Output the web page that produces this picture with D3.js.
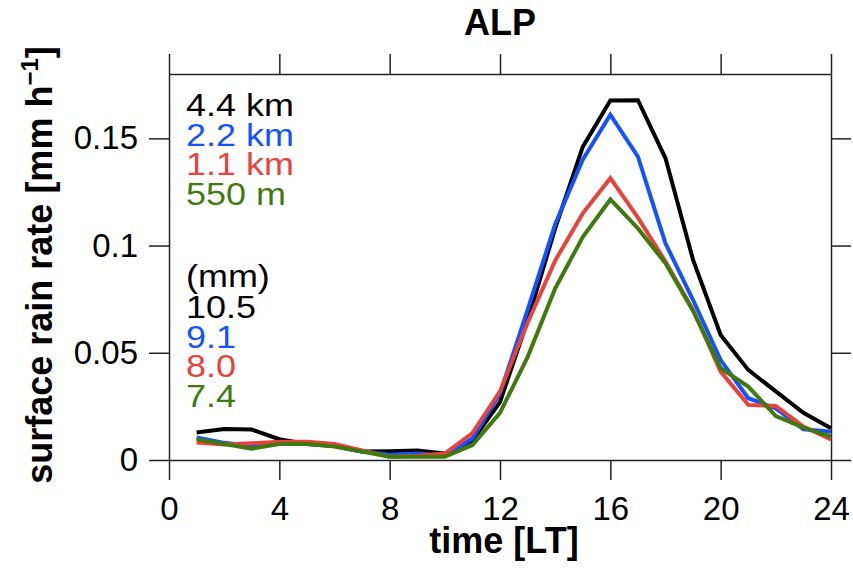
<!DOCTYPE html>
<html>
<head>
<meta charset="utf-8">
<script src="https://cdn.jsdelivr.net/npm/d3@7"></script>
<style>
  html, body { margin: 0; padding: 0; background: #fff; }
  svg { display: block; font-family: "Liberation Sans", Arial, Helvetica, sans-serif; }
</style>
</head>
<body>
<svg id="chart" width="853" height="568"></svg>
<script>
// ---- data ----
const hours = [1,2,3,4,5,6,7,8,9,10,11,12,13,14,15,16,17,18,19,20,21,22,23,24];
const res44km = [0.0128,0.0145,0.0142,0.0097,0.0075,0.0065,0.0040,0.0041,0.0044,0.0030,0.0090,0.0270,0.0650,0.1080,0.1460,0.1676,0.1678,0.1407,0.0933,0.0583,0.0420,0.0320,0.0220,0.0148];
const res22km = [0.0105,0.0080,0.0065,0.0078,0.0078,0.0065,0.0040,0.0025,0.0030,0.0020,0.0100,0.0310,0.0700,0.1100,0.1400,0.1610,0.1415,0.1010,0.0746,0.0466,0.0288,0.0241,0.0143,0.0132];
const res11km = [0.0082,0.0072,0.0078,0.0085,0.0085,0.0075,0.0045,0.0015,0.0020,0.0030,0.0125,0.0320,0.0640,0.0930,0.1150,0.1314,0.1130,0.0925,0.0700,0.0412,0.0257,0.0252,0.0156,0.0096];
const res550m = [0.0097,0.0075,0.0053,0.0075,0.0075,0.0063,0.0040,0.0015,0.0015,0.0015,0.0070,0.0220,0.0480,0.0800,0.1040,0.1215,0.1080,0.0917,0.0695,0.0428,0.0342,0.0205,0.0151,0.0109];
const seriesNames = ["4.4 km","2.2 km","1.1 km","550 m"];
const totals = ["10.5","9.1","8.0","7.4"];
const seriesColors = ["#000000","#1452ff","#e8433b","#3f7a0f"];
const xTicks = [0,4,8,12,16,20,24];
const yTicks = [0,0.05,0.1,0.15];
const yTickLabels = ["0","0.05","0.1","0.15"];
const title = "ALP";
const xLabel = "time [LT]";

// ---- layout ----
const svg = d3.select("#chart");
const pLeft = 169, pRight = 831, pTop = 74, pBottom = 460;
const x = d3.scaleLinear().domain([0,24]).range([pLeft,pRight]);
const y = d3.scaleLinear().domain([0,0.18]).range([pBottom,pTop]);
const axisColor = "#222";

function styleAxis(g){
  g.selectAll("path.domain").attr("stroke", axisColor).attr("stroke-width", 1.5);
  g.selectAll(".tick line").attr("stroke", axisColor).attr("stroke-width", 1.5);
  g.selectAll(".tick text").attr("fill", "#000").attr("font-size", 33)
    .attr("font-family", "Liberation Sans, Arial, sans-serif");
}

// bottom axis
const gB = svg.append("g").attr("transform", `translate(0,${pBottom})`)
  .call(d3.axisBottom(x).tickValues(xTicks).tickFormat(d3.format("d")).tickSize(20).tickSizeOuter(0).tickPadding(17));
styleAxis(gB);
// top axis
const gT = svg.append("g").attr("transform", `translate(0,${pTop})`)
  .call(d3.axisTop(x).tickValues(xTicks).tickFormat("").tickSize(20).tickSizeOuter(0));
styleAxis(gT);
// left axis
const gL = svg.append("g").attr("transform", `translate(${pLeft},0)`)
  .call(d3.axisLeft(y).tickValues(yTicks).tickFormat((d,i)=>yTickLabels[i]).tickSize(20).tickSizeOuter(0).tickPadding(11));
styleAxis(gL);
// right axis
const gR = svg.append("g").attr("transform", `translate(${pRight},0)`)
  .call(d3.axisRight(y).tickValues(yTicks).tickFormat("").tickSize(20).tickSizeOuter(0));
styleAxis(gR);

// ---- lines ----
const allSeries = [res44km, res22km, res11km, res550m];
const line = d3.line().x((d,i)=>x(hours[i])).y(d=>y(d));
svg.append("g").selectAll("path.series")
  .data(allSeries).join("path")
  .attr("class","series")
  .attr("d", d=>line(d))
  .attr("fill","none")
  .attr("stroke",(d,i)=>seriesColors[i])
  .attr("stroke-width",4)
  .attr("stroke-linejoin","miter")
  .attr("stroke-linecap","butt");

// ---- legend text ----
const legX = 186;
const nameBase = [116, 145.5, 175, 204.5];
const totalBase = [318, 347.5, 377, 406.5];
const leg = svg.append("g").attr("font-size", 31);
seriesNames.forEach((n,i)=>{
  leg.append("text").attr("transform",`translate(${legX},${nameBase[i]}) scale(1.16,1)`)
    .attr("fill",seriesColors[i]).text(n);
});
leg.append("text").attr("transform",`translate(${legX},287) scale(1.16,1)`).attr("fill","#000").text("(mm)");
totals.forEach((t,i)=>{
  leg.append("text").attr("transform",`translate(${legX},${totalBase[i]}) scale(1.16,1)`)
    .attr("fill",seriesColors[i]).text(t);
});

// ---- titles ----
svg.append("text").attr("x",500).attr("y",35).attr("text-anchor","middle")
  .attr("font-size",36).attr("font-weight","bold").text(title);
svg.append("text").attr("x",504).attr("y",553).attr("text-anchor","middle")
  .attr("font-size",36).attr("font-weight","bold").text(xLabel);
const yl = svg.append("text").attr("transform","translate(52,265) rotate(-90)")
  .attr("text-anchor","middle").attr("font-size",36).attr("font-weight","bold");
yl.append("tspan").text("surface rain rate [mm h");
yl.append("tspan").attr("dy",-14).attr("font-size",24).text("\u22121");
yl.append("tspan").attr("dy",14).text("]");
</script>
</body>
</html>
